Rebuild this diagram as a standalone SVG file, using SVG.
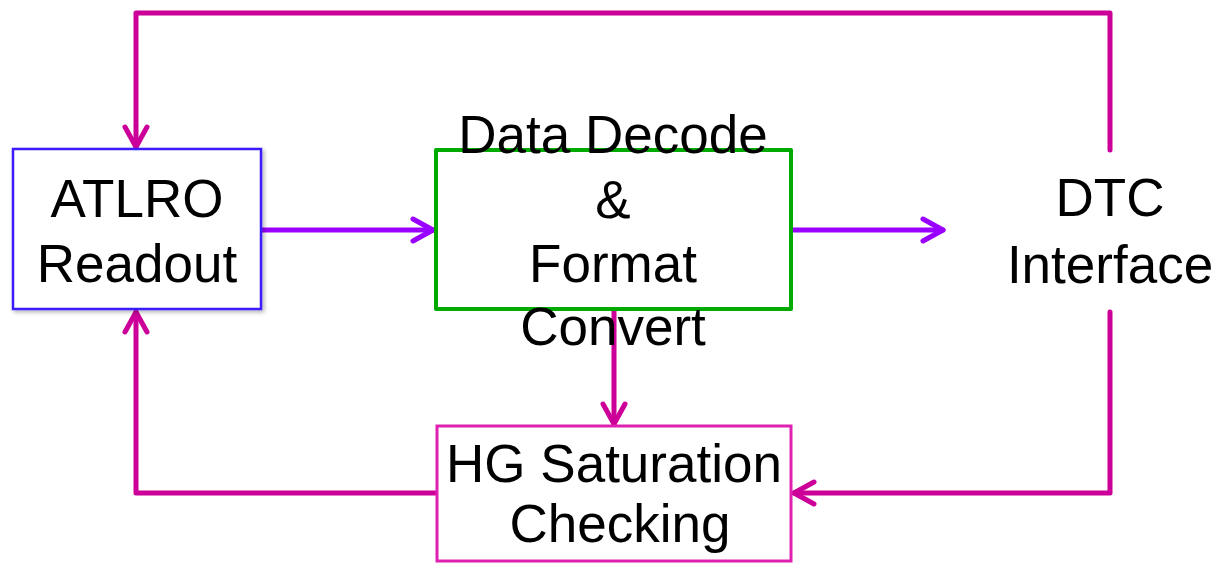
<svg xmlns="http://www.w3.org/2000/svg" width="1221" height="563" viewBox="0 0 1221 563">
  <defs>
    <filter id="soft" x="-10%" y="-10%" width="125%" height="125%">
      <feGaussianBlur in="SourceAlpha" stdDeviation="2"/>
      <feOffset dx="2" dy="2" result="b"/>
      <feComponentTransfer><feFuncA type="linear" slope="0.3"/></feComponentTransfer>
      <feMerge><feMergeNode/><feMergeNode in="SourceGraphic"/></feMerge>
    </filter>
  </defs>
  <style>
    text { font-family: "Liberation Sans", Arial, sans-serif; font-size: 53px; fill: #000; text-anchor: middle; }
    .mag { fill: none; stroke: #CC0099; stroke-width: 5; stroke-linecap: round; stroke-linejoin: round; }
    .pur { fill: none; stroke: #9900FF; stroke-width: 5; stroke-linecap: round; stroke-linejoin: round; }
  </style>

  <rect width="1221" height="563" fill="#fff"/>

  <g id="connectors">
    <!-- feedback loop over the top: DTC back to ATLRO -->
    <path class="mag" d="M1110,150 V13 H136 V147"/>
    <path class="mag" d="M125,127 L136,147 L147,127"/>
    <!-- HG check back to ATLRO -->
    <path class="mag" d="M436,493 H136 V312"/>
    <path class="mag" d="M125,332 L136,312 L147,332"/>
    <!-- DTC into HG check -->
    <path class="mag" d="M1110,312 V493 H794"/>
    <path class="mag" d="M814,482 L794,493 L814,504"/>
    <!-- decode into HG check -->
    <path class="mag" d="M614,311 V424"/>
    <path class="mag" d="M603,404 L614,424 L625,404"/>
    <!-- ATLRO into decode -->
    <path class="pur" d="M262,230 H433"/>
    <path class="pur" d="M413,219 L433,230 L413,241"/>
    <!-- decode to DTC -->
    <path class="pur" d="M793,230 H943"/>
    <path class="pur" d="M923,219 L943,230 L923,241"/>
  </g>

  <g id="atlro" filter="url(#soft)">
    <rect x="13" y="149" width="248" height="160" fill="#fff" stroke="#3B1EFF" stroke-width="2.5"/>
    <text x="137" y="217">ATLRO</text>
    <text x="137" y="282">Readout</text>
  </g>

  <g id="decode">
    <rect x="436" y="150" width="355" height="159" fill="#fff" stroke="#00AA00" stroke-width="4" stroke-linejoin="round"/>
    <text x="613" y="153">Data Decode</text>
    <text x="613" y="218">&amp;</text>
    <text x="613" y="282">Format</text>
    <text x="613" y="345">Convert</text>
  </g>

  <g id="dtc">
    <text x="1110" y="216">DTC</text>
    <text x="1110" y="283">Interface</text>
  </g>

  <g id="hgcheck">
    <rect x="437" y="426" width="354" height="135" fill="#fff" stroke="#E020B0" stroke-width="3"/>
    <text x="614" y="482">HG Saturation</text>
    <text x="620" y="542">Checking</text>
  </g>
</svg>
